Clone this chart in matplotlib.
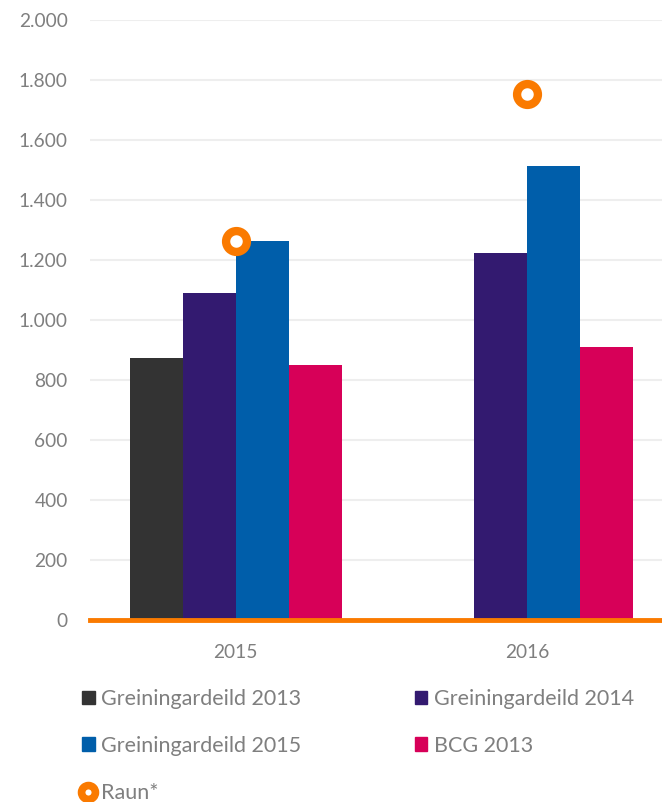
import matplotlib.pyplot as plt
import numpy as np
from matplotlib.lines import Line2D
from matplotlib.patches import Patch

years = ['2015', '2016']
series_names = ['Greiningardeild 2013', 'Greiningardeild 2014', 'Greiningardeild 2015', 'BCG 2013']
greining_2013 = [875, np.nan]
greining_2014 = [1090, 1225]
greining_2015 = [1263, 1513]
bcg_2013 = [850, 910]
raun = [1265, 1752]
yticks = [0, 200, 400, 600, 800, 1000, 1200, 1400, 1600, 1800, 2000]
ytick_labels = ['0', '200', '400', '600', '800', '1.000', '1.200', '1.400', '1.600', '1.800', '2.000']

colors = ['#333333', '#331a70', '#005eaa', '#d70058']
orange = '#fa7a00'
gray = '#7f7f7f'

plt.rcParams['font.family'] = ['Lato', 'DejaVu Sans']

fig = plt.figure(figsize=(6.62, 8.02), dpi=100)
ax = fig.add_axes([90 / 662, 182 / 802, 583 / 662, 600 / 802])

x = np.arange(len(years))
w = 0.182
values = [greining_2013, greining_2014, greining_2015, bcg_2013]
for i, vals in enumerate(values):
    ax.bar(x + (i - 1.5) * w, vals, width=w, color=colors[i], zorder=2)

#actual values as rings
ax.plot(x, raun, 'o', color=orange, markerfacecolor='white', markersize=15,
        markeredgewidth=6, zorder=3)

ax.set_xlim(-0.5, 1.5)
ax.set_ylim(0, 2000)
ax.set_yticks(yticks)
ax.set_yticklabels(ytick_labels)
ax.set_xticks(x)
ax.set_xticklabels(years)
ax.tick_params(length=0, colors=gray, labelsize=13.8)
ax.tick_params(axis='y', pad=16)
ax.tick_params(axis='x', pad=17)
ax.grid(axis='y', color='#eeeeee', linewidth=1.5, zorder=0)
for s in ['top', 'right', 'left']:
    ax.spines[s].set_visible(False)
ax.spines['bottom'].set_color(orange)
ax.spines['bottom'].set_linewidth(3.5)
ax.spines['bottom'].set_zorder(4)

handles = [Patch(color=colors[0]), Patch(color=colors[2]),
           Line2D([], [], marker='o', ls='', color=orange, markerfacecolor='white',
                  markersize=10, markeredgewidth=5.5),
           Patch(color=colors[1]), Patch(color=colors[3])]
labels = [series_names[0], series_names[2], 'Raun*', series_names[1], series_names[3]]
leg = fig.legend(handles, labels, ncol=2, loc='upper left', bbox_to_anchor=(82 / 662, 1 - 689 / 802),
                 frameon=False, fontsize=15.5, handlelength=0.6, handleheight=0.6,
                 handletextpad=0.3, columnspacing=5.25, labelspacing=1.25, borderpad=0,
                 borderaxespad=0)
for t in leg.get_texts():
    t.set_color(gray)

plt.savefig('out.png', dpi=100)
